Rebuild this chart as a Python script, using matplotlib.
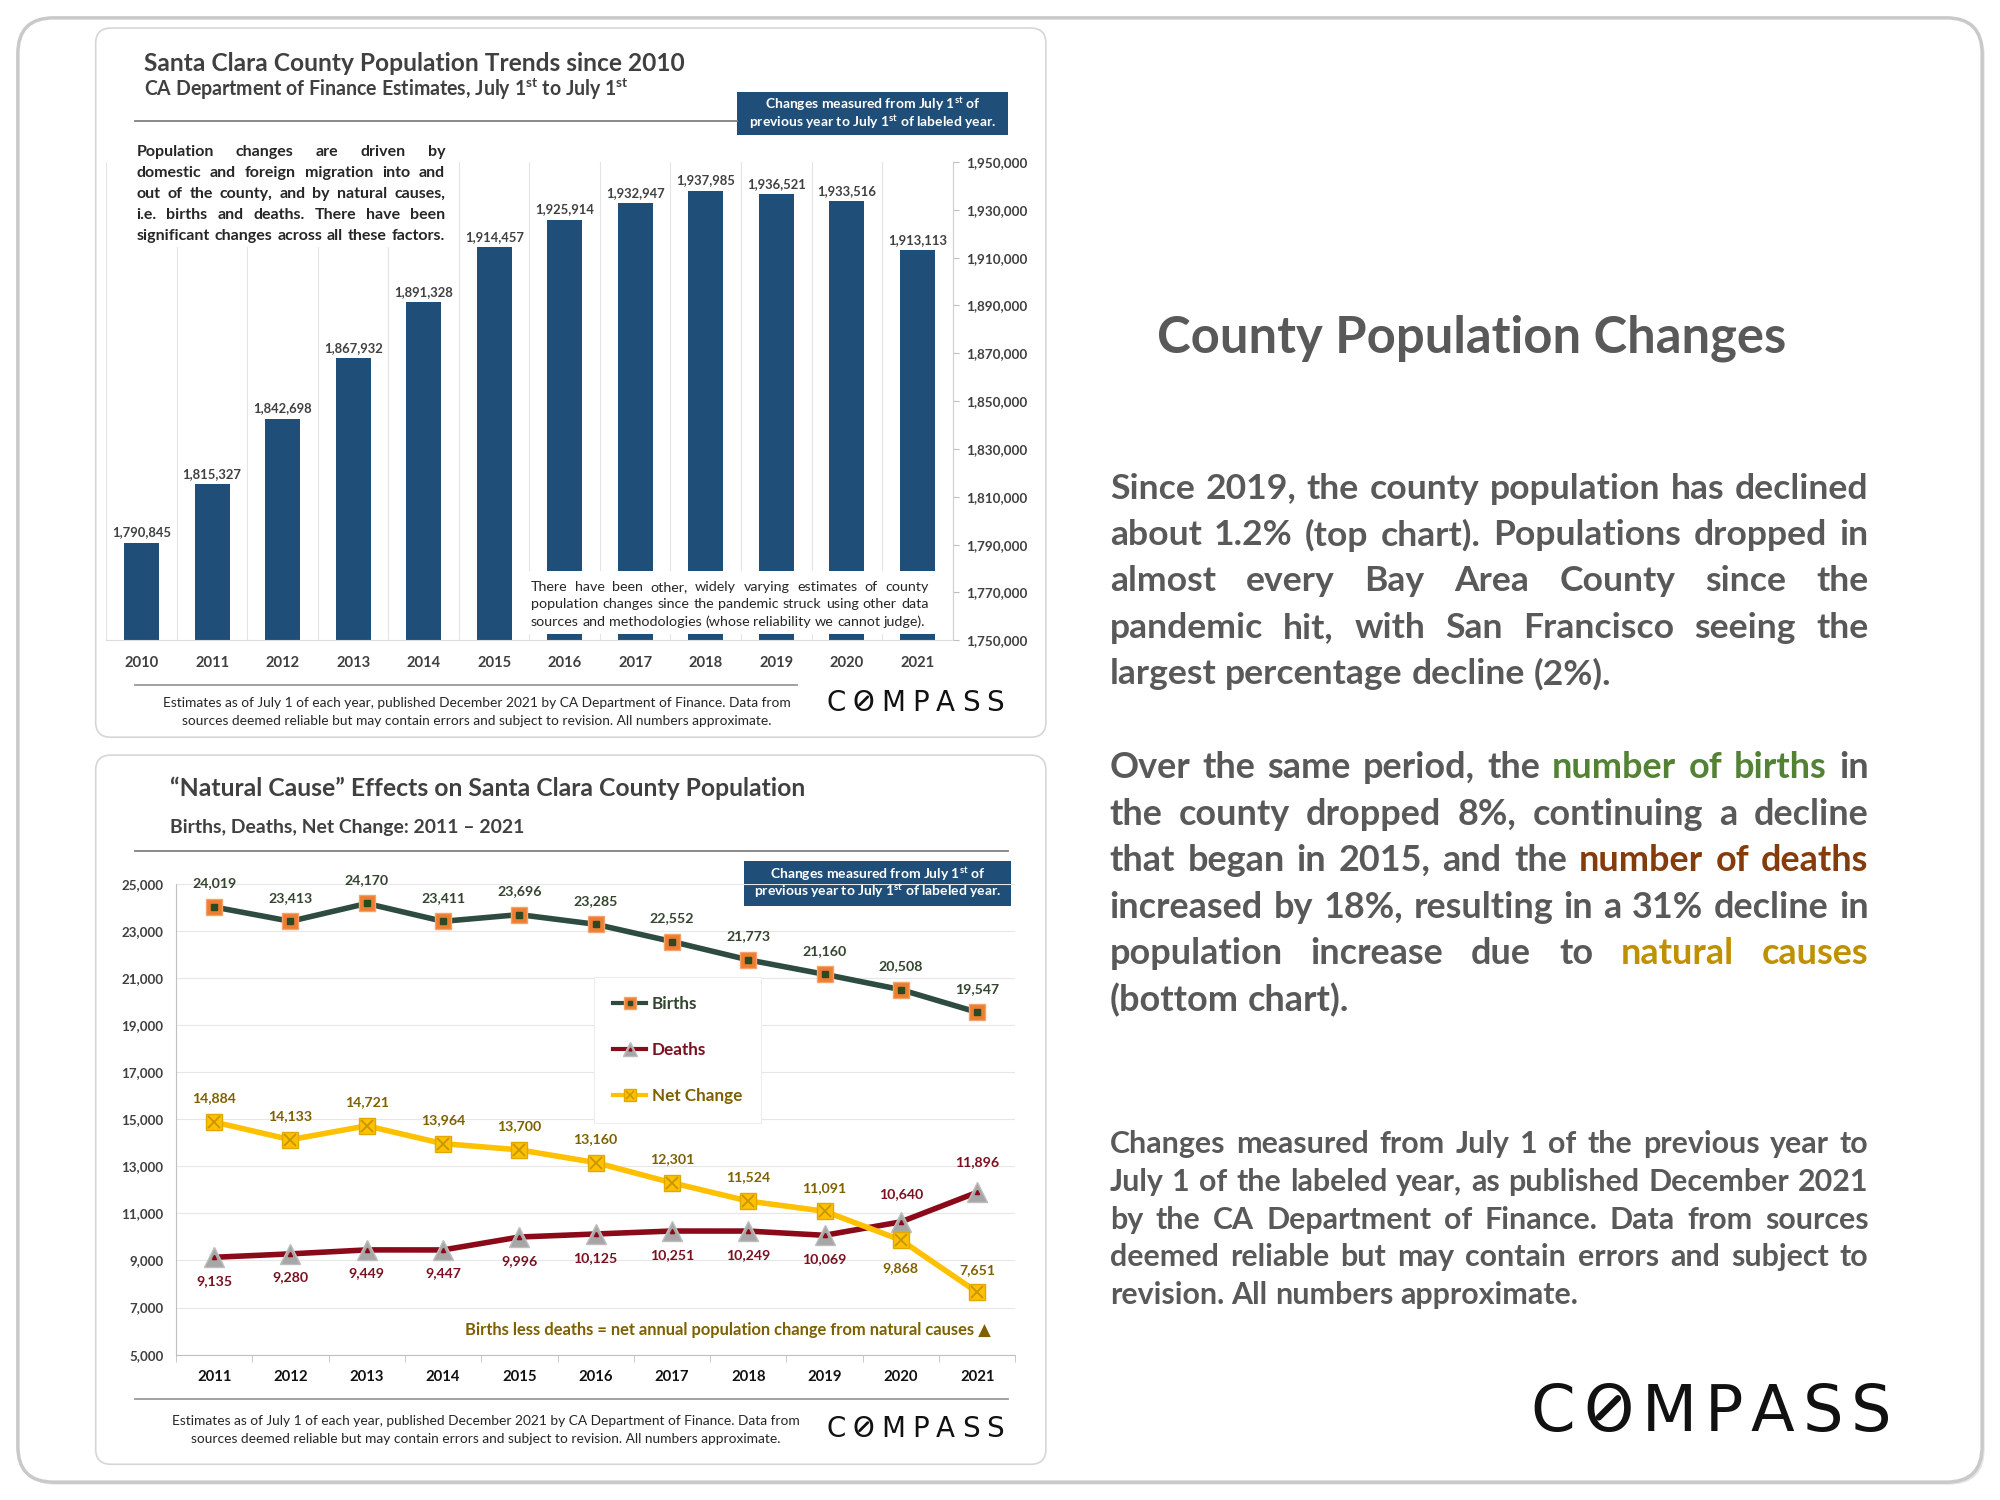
import numpy as np
import matplotlib
matplotlib.use("Agg")
import matplotlib.pyplot as plt
from matplotlib.patches import FancyBboxPatch, Rectangle
from matplotlib.lines import Line2D

plt.rcParams["font.family"] = ["Lato", "DejaVu Sans"]
plt.rcParams["mathtext.default"] = "regular"

# ---- top chart data (July 1 population estimates)
pop_years = ["2010", "2011", "2012", "2013", "2014", "2015",
             "2016", "2017", "2018", "2019", "2020", "2021"]
pop_values = [1790845, 1815327, 1842698, 1867932, 1891328, 1914457,
              1925914, 1932947, 1937985, 1936521, 1933516, 1913113]
pop_ticks = [1750000, 1770000, 1790000, 1810000, 1830000, 1850000,
             1870000, 1890000, 1910000, 1930000, 1950000]

# ---- bottom chart data (natural causes)
nat_years = ["2011", "2012", "2013", "2014", "2015", "2016",
             "2017", "2018", "2019", "2020", "2021"]
births = [24019, 23413, 24170, 23411, 23696, 23285, 22552, 21773, 21160, 20508, 19547]
deaths = [9135, 9280, 9449, 9447, 9996, 10125, 10251, 10249, 10069, 10640, 11896]
net_change = [14884, 14133, 14721, 13964, 13700, 13160, 12301, 11524, 11091, 9868, 7651]
nat_ticks = [5000, 7000, 9000, 11000, 13000, 15000, 17000, 19000, 21000, 23000, 25000]

# label offsets (points) for the line labels
births_off = [17] * 11
deaths_off = [-17, -17, -17, -17, -17, -17, -17, -17, -17, 20, 22]
net_off = [17, 17, 17, 17, 17, 17, 17, 17, 17, -20, 16]

BAR = "#1F4E79"
DARK = "#404040"
BODY = "#595959"
B_LINE = "#2E4B40"
B_MARK = "#ED7D31"
B_TXT = "#34452F"
D_LINE = "#8B0A1A"
D_TXT = "#7B1020"
N_LINE = "#FFC000"
N_TXT = "#7F6000"

W, H = 1568, 1176
fig = plt.figure(figsize=(20, 15), dpi=100)
bg = fig.add_axes([0, 0, 1, 1], zorder=0)
bg.set_xlim(0, W)
bg.set_ylim(H, 0)
bg.axis("off")
renderer = fig.canvas.get_renderer()


def width_of(s, size, weight="bold", family=None):
    t = bg.text(0, 0, s, fontsize=size, fontweight=weight, family=family)
    w = t.get_window_extent(renderer).width * W / fig.bbox.width
    t.remove()
    return w


def fit_size(s, target, weight="bold"):
    return 10 * target / width_of(s, 10, weight)


def words_line(ax, segs, x0, x1, y, size, weight, justify, zorder=6, va="center",
               family=None):
    words = [(w, c) for s, c in segs for w in s.split()]
    widths = [width_of(w, size, weight, family) for w, _ in words]
    if justify and len(words) > 1:
        gap = (x1 - x0 - sum(widths)) / (len(words) - 1)
    else:
        gap = width_of("a a", size, weight) - width_of("aa", size, weight)
    x = x0
    pos = []
    for (w, c), wd in zip(words, widths):
        ax.text(x, y, w, transform=bg.transData, fontsize=size, fontweight=weight,
                color=c, ha="left", va=va, zorder=zorder, family=family)
        pos.append((x, wd))
        x += wd + gap
    return pos


def paragraph(ax, lines, x0, x1, y0, dy, weight, color, last_full=False, zorder=6):
    norm = [[(l, color)] if isinstance(l, str) else l for l in lines]
    body = norm if last_full else norm[:-1]
    widest = max(width_of(" ".join(s for s, _ in segs), 10, weight) for segs in body)
    size = 10 * (x1 - x0) / widest * 0.985
    for i, segs in enumerate(norm):
        just = i < len(norm) - 1 or last_full
        words_line(ax, segs, x0, x1, y0 + i * dy, size, weight, just, zorder)
    return size


def logo(x0, x1, yb, size):
    pos = words_line(bg, [("C O M P A S S", "#111111")], x0, x1, yb, size, "normal",
                     True, va="baseline", family="DejaVu Sans")
    ox, ow = pos[1]
    cx = ox + ow / 2
    cy = yb - 0.73 * size * 1.089 / 2
    r = ow * 0.19
    bg.plot([cx - r, cx + r], [cy + r, cy - r], color="#111111", lw=size * 0.1,
            solid_capstyle="round", zorder=6)


def fit_text(x, y, s, x_end, color, weight="bold", ha="left", **kw):
    size = fit_size(s, x_end - x, weight)
    bg.text(x, y, s, fontsize=size, fontweight=weight, color=color, ha=ha,
            va="center", **kw)
    return size


# ---- frames
bg.add_patch(FancyBboxPatch((16, 16), 1540, 1148, boxstyle="round,pad=0,rounding_size=28",
                            fc="#e6e6e6", ec="none"))
bg.add_patch(FancyBboxPatch((14, 14), 1540, 1148, boxstyle="round,pad=0,rounding_size=28",
                            fc="white", ec="#c9c9c9", lw=2.5))
for top in (22, 592):
    bg.add_patch(FancyBboxPatch((75, top), 745, 556, boxstyle="round,pad=0,rounding_size=12",
                                fc="white", ec="#d6d6d6", lw=1.2))

# ================= top chart =================
fit_text(113, 50, "Santa Clara County Population Trends since 2010", 537, DARK)
fit_text(113, 70, r"CA Department of Finance Estimates, July 1$^{st}$ to July 1$^{st}$", 494, DARK)
bg.plot([106, 578], [95, 95], color="#808080", lw=1.3)
bg.add_patch(Rectangle((578, 72), 212, 34, fc=BAR, ec="none"))
bsz = fit_size("Changes measured from July 1st of", 170)
bg.text(684, 82, r"Changes measured from July 1$^{st}$ of", fontsize=bsz, fontweight="bold",
        color="white", ha="center", va="center")
bg.text(684, 96, r"previous year to July 1$^{st}$ of labeled year.", fontsize=bsz,
        fontweight="bold", color="white", ha="center", va="center")

ax1 = fig.add_axes([83.4 / W, 1 - 502 / H, (746.8 - 83.4) / W, (502 - 127) / H], zorder=2)
ax1.set_facecolor("none")
xp = np.arange(len(pop_years))
ax1.bar(xp, pop_values, width=0.5, color=BAR, zorder=2)
lab_sz = fit_size("1,790,845", 46)
for xi, v in zip(xp, pop_values):
    ax1.annotate(f"{v:,}", (xi, v), xytext=(0, 3), textcoords="offset points",
                 ha="center", va="bottom", fontsize=lab_sz, fontweight="bold",
                 color=DARK, annotation_clip=False, zorder=6)
ax1.yaxis.tick_right()
ax1.set_yticks(pop_ticks)
ax1.set_yticklabels([f"{t:,}" for t in pop_ticks], fontsize=fit_size("1,950,000", 48),
                    fontweight="bold", color=DARK)
ax1.set_xticks(xp)
ax1.set_xticklabels(pop_years, fontsize=fit_size("2010", 27), fontweight="bold", color=DARK)
ax1.set_xticks(np.arange(-0.5, len(pop_years), 1), minor=True)
ax1.tick_params(axis="y", length=4, width=0.8, color="#bfbfbf", pad=6)
ax1.tick_params(axis="x", which="both", length=0, pad=11)
ax1.grid(which="minor", axis="x", color="#e4e4e4", lw=0.8)
ax1.set_axisbelow(True)
for s in ("top", "left"):
    ax1.spines[s].set_visible(False)
ax1.spines["right"].set_color("#cfcfcf")
ax1.spines["bottom"].set_color("#dddddd")

# white boxes with notes over the plot
ax1.add_patch(Rectangle((100, 108), 256, 86, transform=bg.transData, fc="white",
                        ec="none", zorder=4))
paragraph(ax1, ["Population changes are driven by",
                "domestic and foreign migration into and",
                "out of the county, and by natural causes,",
                "i.e. births and deaths. There have been",
                "significant changes across all these factors."],
          107, 349, 119, 16.5, "bold", "#262626", last_full=True)
ax1.add_patch(Rectangle((410, 448), 326, 49, transform=bg.transData, fc="white",
                        ec="none", zorder=4))
paragraph(ax1, ["There have been other, widely varying estimates of county",
                "population changes since the pandemic struck using other data",
                "sources and methodologies (whose reliability we cannot judge)."],
          416, 728, 460, 13.7, "normal", "#262626")
ax1.set_xlim(-0.5, len(pop_years) - 0.5)
ax1.set_ylim(1750000, 1950000)

bg.plot([106, 625], [537, 537], color="#999999", lw=1.3)
fsz = fit_size("Estimates as of July 1 of each year, published December 2021 by CA "
               "Department of Finance. Data from", 492, "normal")
for yy, s in ((551, "Estimates as of July 1 of each year, published December 2021 by CA "
                    "Department of Finance. Data from"),
              (565, "sources deemed reliable but may contain errors and subject to "
                    "revision. All numbers approximate.")):
    bg.text(374, yy, s, fontsize=fsz, color="#262626", ha="center", va="center")
logo(648, 787, 557.5, 20)

# ================= bottom chart =================
fit_text(133, 618, "\u201cNatural Cause\u201d Effects on Santa Clara County Population", 632, DARK)
fit_text(133, 649, "Births, Deaths, Net Change: 2011 \u2013 2021", 412, DARK)
bg.plot([106, 790], [667, 667], color="#808080", lw=1.3)
bg.add_patch(Rectangle((583, 675), 210, 35, fc=BAR, ec="none", zorder=3))
bg.text(688, 685, r"Changes measured from July 1$^{st}$ of", fontsize=bsz, fontweight="bold",
        color="white", ha="center", va="center", zorder=4)
bg.text(688, 699, r"previous year to July 1$^{st}$ of labeled year.", fontsize=bsz,
        fontweight="bold", color="white", ha="center", va="center", zorder=4)

ax2 = fig.add_axes([138 / W, 1 - 1062 / H, (796 - 138) / W, (1062 - 693) / H], zorder=2)
ax2.set_facecolor("none")
xn = np.arange(len(nat_years))
ax2.plot(xn, births, color=B_LINE, lw=4, marker="s", ms=12, mfc=B_MARK, mec="#F4A46A",
         mew=1, zorder=4)
ax2.plot(xn, births, ls="none", marker="s", ms=4, color="#2B4A22", zorder=5)
ax2.plot(xn, deaths, color=D_LINE, lw=4, marker="^", ms=14, mfc="#A6A6A6", mec="#BDBDBD",
         mew=1, zorder=4)
ax2.plot(xn, deaths, ls="none", marker="^", ms=3, color=D_LINE, zorder=5)
ax2.plot(xn, net_change, color=N_LINE, lw=4, marker="s", ms=12, mfc="#FFC000", mec="#E0A800",
         mew=1, zorder=4)
ax2.plot(xn, net_change, ls="none", marker="x", ms=8, color="#C89600", mew=1.3, zorder=5)

pt_sz = fit_size("24,019", 35)
for vals, offs, col in ((births, births_off, B_TXT), (deaths, deaths_off, D_TXT),
                        (net_change, net_off, N_TXT)):
    for xi, v, o in zip(xn, vals, offs):
        ax2.annotate(f"{v:,}", (xi, v), xytext=(0, o), textcoords="offset points",
                     ha="center", va="center", fontsize=pt_sz, fontweight="bold",
                     color=col, annotation_clip=False, zorder=6)

ax2.set_yticks(nat_ticks)
ax2.set_yticklabels([f"{t:,}" for t in nat_ticks], fontsize=fit_size("25,000", 33),
                    fontweight="bold", color=DARK)
ax2.set_xticks(xn)
ax2.set_xticklabels(nat_years, fontsize=fit_size("2011", 27), fontweight="bold", color="#111111")
ax2.set_xticks(np.arange(-0.5, len(nat_years), 1), minor=True)
ax2.tick_params(axis="y", length=0, pad=9)
ax2.tick_params(axis="x", which="major", length=0, pad=11)
ax2.tick_params(axis="x", which="minor", length=5, color="#bfbfbf")
ax2.grid(axis="y", color="#e6e6e6", lw=0.8)
ax2.set_axisbelow(True)
for s in ("top", "right"):
    ax2.spines[s].set_visible(False)
ax2.spines["left"].set_color("#bfbfbf")
ax2.spines["bottom"].set_color("#bfbfbf")
ax2.set_xlim(-0.5, len(nat_years) - 0.5)
ax2.set_ylim(5000, 25000)

handles = [
    (Line2D([], [], color=B_LINE, lw=3, marker="s", ms=9, mfc=B_MARK, mec="#F4A46A"),
     Line2D([], [], ls="none", marker="s", ms=3, color="#2B4A22")),
    (Line2D([], [], color=D_LINE, lw=3, marker="^", ms=10, mfc="#A6A6A6", mec="#BDBDBD"),
     Line2D([], [], ls="none", marker="^", ms=2, color=D_LINE)),
    (Line2D([], [], color=N_LINE, lw=3, marker="s", ms=9, mfc="#FFC000", mec="#E0A800"),
     Line2D([], [], ls="none", marker="x", ms=6, color="#C89600", mew=1.1)),
]
leg_sz = fit_size("Net Change", 71)
leg = ax2.legend(handles, ["Births", "Deaths", "Net Change"], loc="upper left",
                 bbox_to_anchor=(466 / W, 1 - 766 / H), bbox_transform=fig.transFigure,
                 frameon=True, fancybox=False, edgecolor="#ededed", framealpha=1,
                 prop={"size": leg_sz, "weight": "bold"}, labelcolor=[B_TXT, D_TXT, N_TXT],
                 labelspacing=1.75, handlelength=1.9, handletextpad=0.35, borderpad=1.1,
                 borderaxespad=0)
leg.get_frame().set_linewidth(0.8)
leg.set_zorder(7)

ann = "Births less deaths = net annual population change from natural causes \u25b2"
bg.text(777, 1043, ann, fontsize=fit_size(ann, 415), fontweight="bold", color=N_TXT,
        ha="right", va="center", zorder=8)

bg.plot([106, 790], [1097, 1097], color="#999999", lw=1.3)
for yy, s in ((1114, "Estimates as of July 1 of each year, published December 2021 by CA "
                     "Department of Finance. Data from"),
              (1128, "sources deemed reliable but may contain errors and subject to "
                     "revision. All numbers approximate.")):
    bg.text(381, yy, s, fontsize=fsz, color="#262626", ha="center", va="center")
logo(648, 787, 1126.5, 20)

# ================= right-hand commentary =================
fit_text(907, 265, "County Population Changes", 1400, BODY)
paragraph(bg, ["Since 2019, the county population has declined",
               "about 1.2% (top chart). Populations dropped in",
               "almost every Bay Area County since the",
               "pandemic hit, with San Francisco seeing the",
               "largest percentage decline (2%)."],
          870, 1465, 383, 36.4, "bold", BODY)
paragraph(bg, [[("Over the same period, the", BODY), ("number of births", "#548235"), ("in", BODY)],
               "the county dropped 8%, continuing a decline",
               [("that began in 2015, and the", BODY), ("number of deaths", "#843C0C")],
               "increased by 18%, resulting in a 31% decline in",
               [("population increase due to", BODY), ("natural causes", "#BF9000")],
               "(bottom chart)."],
          870, 1465, 602, 36.4, "bold", BODY)
paragraph(bg, ["Changes measured from July 1 of the previous year to",
               "July 1 of the labeled year, as published December 2021",
               "by the CA Department of Finance. Data from sources",
               "deemed reliable but may contain errors and subject to",
               "revision. All numbers approximate."],
          870, 1465, 897, 29.6, "bold", BODY)
logo(1200, 1483, 1122, 46)

fig.savefig("out.png", dpi=100)
